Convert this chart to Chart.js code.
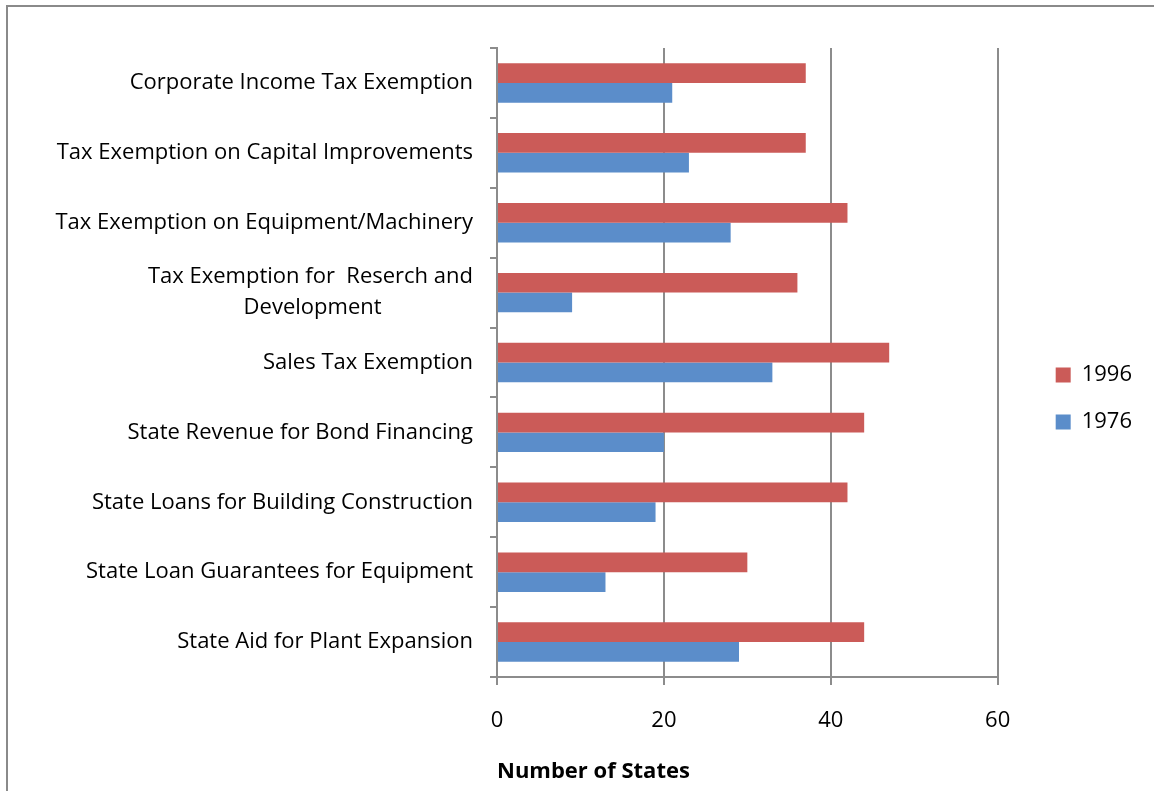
<!DOCTYPE html>
<html>
<head>
<meta charset="utf-8">
<script src="https://cdn.jsdelivr.net/npm/chart.js@4/dist/chart.umd.min.js"></script>
<style>
  html, body { margin: 0; padding: 0; background: #fff; }
  #wrap { position: relative; width: 1154px; height: 791px; overflow: hidden; }
  #frame { position: absolute; left: 6px; top: 5px; width: 1200px; height: 900px;
           border-left: 2px solid #8a8a8a; border-top: 2px solid #8a8a8a; pointer-events: none; }
</style>
</head>
<body>
<div id="wrap">
  <canvas id="incentives" width="1154" height="791"></canvas>
  <div id="frame"></div>
</div>
<script>
const programs = [
    'Corporate Income Tax Exemption',
    'Tax Exemption on Capital Improvements',
    'Tax Exemption on Equipment/Machinery',
    // trailing spaces keep the second line roughly centred under the first
    ['Tax Exemption for  Reserch and', 'Development                '],
    'Sales Tax Exemption',
    'State Revenue for Bond Financing',
    'State Loans for Building Construction',
    'State Loan Guarantees for Equipment',
    'State Aid for Plant Expansion'
]
const states1996 = [37, 37, 42, 36, 47, 44, 42, 30, 44]
const states1976 = [21, 23, 28, 9, 33, 20, 19, 13, 29]
const xTicks = [0, 20, 40, 60]

const FONT = "'Open Sans', sans-serif"
const GREY = '#8c8c8c'

Chart.defaults.font.family = FONT
Chart.defaults.color = '#000'

new Chart(document.getElementById('incentives'), {
    type: 'bar',
    data: {
        labels: programs,
        datasets: [
            { label: '1996', data: states1996, backgroundColor: '#cb5b58' },
            { label: '1976', data: states1976, backgroundColor: '#5b8dca' }
        ]
    },
    options: {
        indexAxis: 'y',
        responsive: false,
        animation: false,
        categoryPercentage: 0.564,
        barPercentage: 1,
        layout: { padding: { top: 6, left: 0, right: 12, bottom: 0 } },
        scales: {
            x: {
                min: 0,
                max: 60,
                afterBuildTicks: s => { s.ticks = xTicks.map(v => ({ value: v })) },
                afterFit: s => { s.height = 114 },
                grid: { color: GREY, lineWidth: 2, tickLength: 8 },
                border: { color: GREY, width: 2 },
                ticks: { font: { size: 22 }, padding: 23 },
                title: {
                    display: true, text: 'Number of States', align: 'start',
                    font: { size: 22, weight: 'bold' }, padding: { top: 0, bottom: 6 }
                }
            },
            y: {
                afterFit: s => { s.width = 497 },
                grid: { drawOnChartArea: false, color: GREY, lineWidth: 2, tickLength: 7 },
                border: { color: GREY, width: 2 },
                ticks: { font: { size: 22, lineHeight: 1.4 }, padding: 17 }
            },
            // empty strip between the plot and the legend
            gap: {
                type: 'linear', position: 'right', display: true,
                afterFit: s => { s.width = 33 },
                grid: { display: false }, border: { display: false },
                ticks: { display: false }
            }
        },
        plugins: {
            title: { display: true, text: '', font: { size: 42, lineHeight: 1 }, padding: 0 },
            legend: {
                position: 'right',
                labels: { boxWidth: 15, boxHeight: 15, padding: 25, font: { size: 22 } }
            },
            tooltip: { enabled: false }
        }
    }
})
</script>
</body>
</html>
